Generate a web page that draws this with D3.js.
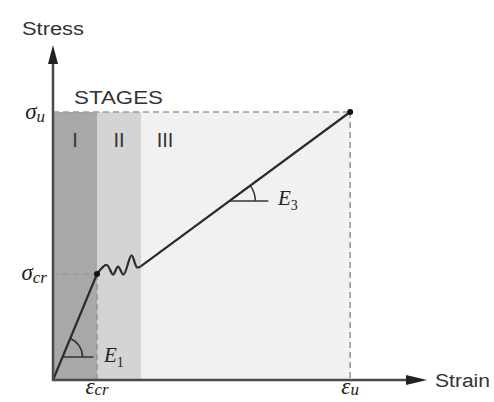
<!DOCTYPE html>
<html>
<head>
<meta charset="utf-8">
<script src="https://cdn.jsdelivr.net/npm/d3@7"></script>
<style>
  html, body { margin: 0; padding: 0; background: #fff; }
  svg { display: block; }
  .sans { font-family: "Liberation Sans", Arial, sans-serif; fill: #333; }
  .math { font-family: "Liberation Serif", "DejaVu Serif", serif; font-style: italic; fill: #222; }
</style>
</head>
<body>
<svg id="chart" width="494" height="402"></svg>
<script>
// Stress–strain response, normalised by cracking strain / cracking stress
const stageNames  = ["I", "II", "III"];
const stageBounds = [0, 1, 2, 6.75];          // strain at stage limits
const crackStrain = 1, crackStress = 1;       // (εcr, σcr)
const ultStrain = 6.75, ultStress = 2.528;    // (εu, σu)

// elastic branch, multiple-cracking wave, post-cracking branch
const elasticStrain = [0, 1];
const elasticStress = [0, 1];
const waveStrain = [1.0, 1.22, 1.364, 1.477, 1.602, 1.784, 1.909, 2.0];
const waveStress = [1.0, 1.085, 0.995, 1.070, 0.995, 1.175, 1.062, 1.075];
const hardStrain = [2.0, 6.75];
const hardStress = [1.075, 2.528];

const xAxisMax = 8.45, yAxisMax = 3.16;

const svg = d3.select("#chart");
const x = d3.scaleLinear().domain([0, xAxisMax]).range([53, 425]);
const y = d3.scaleLinear().domain([0, yAxisMax]).range([380, 45]);

// stage bands
const bandFill = ["#a8a8a8", "#d4d4d4", "#f1f1f1"];
svg.selectAll("rect.stage").data(stageNames).join("rect")
  .attr("class", "stage")
  .attr("x", (d, i) => x(stageBounds[i]))
  .attr("width", (d, i) => x(stageBounds[i + 1]) - x(stageBounds[i]))
  .attr("y", y(ultStress))
  .attr("height", y(0) - y(ultStress))
  .attr("fill", (d, i) => bandFill[i]);

svg.selectAll("text.stage").data(stageNames).join("text")
  .attr("class", "sans")
  .attr("x", (d, i) => d === "III" ? x(stageBounds[i]) + 24 : (x(stageBounds[i]) + x(stageBounds[i + 1])) / 2)
  .attr("y", 147)
  .attr("text-anchor", "middle")
  .attr("font-size", 20)
  .attr("fill", "#222")
  .text(d => d);

// reference dashed lines
const dash = svg.append("g").attr("stroke", "#9a9a9a").attr("stroke-width", 1.6)
  .attr("stroke-dasharray", "6,4").attr("fill", "none");
dash.append("line").attr("x1", x(0)).attr("x2", x(ultStrain)).attr("y1", y(ultStress)).attr("y2", y(ultStress));
dash.append("line").attr("x1", x(ultStrain)).attr("x2", x(ultStrain)).attr("y1", y(ultStress)).attr("y2", y(0));
dash.append("line").attr("x1", x(0)).attr("x2", x(crackStrain)).attr("y1", y(crackStress)).attr("y2", y(crackStress));
dash.append("line").attr("x1", x(crackStrain)).attr("x2", x(crackStrain)).attr("y1", y(crackStress)).attr("y2", y(0));

// response curve
const lineStyle = g => g.attr("fill", "none").attr("stroke", "#2b2b2b").attr("stroke-width", 2.2)
  .attr("stroke-linejoin", "round");
const straight = d3.line().x(d => x(d[0])).y(d => y(d[1]));
const wavy = d3.line().x(d => x(d[0])).y(d => y(d[1])).curve(d3.curveCatmullRom.alpha(0.5));
svg.append("path").datum(d3.zip(elasticStrain, elasticStress)).attr("d", straight).call(lineStyle);
svg.append("path").datum(d3.zip(waveStrain, waveStress)).attr("d", wavy).call(lineStyle);
svg.append("path").datum(d3.zip(hardStrain, hardStress)).attr("d", straight).call(lineStyle);

svg.append("circle").attr("cx", x(crackStrain)).attr("cy", y(crackStress)).attr("r", 3).attr("fill", "#111");
svg.append("circle").attr("cx", x(ultStrain)).attr("cy", y(ultStress)).attr("r", 3).attr("fill", "#111");

// slope markers: horizontal leg + arc at the intersection with the branch
function slopeMark(p0, p1, stressLevel, legPx, r) {
  const s = p0[0] + (stressLevel - p0[1]) * (p1[0] - p0[0]) / (p1[1] - p0[1]);
  const cx = x(s), cy = y(stressLevel);
  const dx = x(p1[0]) - x(p0[0]), dy = y(p0[1]) - y(p1[1]);
  const th = Math.atan2(dy, dx);
  const g = svg.append("g").attr("fill", "none").attr("stroke", "#333").attr("stroke-width", 1.5);
  g.append("line").attr("x1", cx).attr("x2", cx + legPx).attr("y1", cy).attr("y2", cy);
  g.append("path").attr("d",
    `M${cx + r},${cy} A${r},${r} 0 0 0 ${cx + r * Math.cos(th)},${cy - r * Math.sin(th)}`);
}
slopeMark([0, 0], [crackStrain, crackStress], y.invert(357), 31, 20);
slopeMark([hardStrain[0], hardStress[0]], [hardStrain[1], hardStress[1]], y.invert(201), 39, 26);

// modulus labels
function modLabel(px, py, sub) {
  const t = svg.append("text").attr("class", "math").attr("x", px).attr("y", py).attr("font-size", 21);
  t.append("tspan").text("E");
  t.append("tspan").attr("font-size", 14).attr("font-style", "normal").attr("dy", 5).text(sub);
}
modLabel(104, 362, "1");
modLabel(278, 205, "3");

// axes with arrowheads
const axis = svg.append("g").attr("stroke", "#4a4a4a").attr("stroke-width", 2.5);
axis.append("line").attr("x1", x(0)).attr("x2", x(0)).attr("y1", y(0) + 1).attr("y2", y(yAxisMax) + 12);
axis.append("line").attr("x1", x(0) - 1).attr("x2", x(xAxisMax) - 12).attr("y1", y(0)).attr("y2", y(0));
svg.append("path")
  .attr("d", `M${x(0)},${y(yAxisMax)} L${x(0) - 5},${y(yAxisMax) + 19} L${x(0) + 5},${y(yAxisMax) + 19} Z`)
  .attr("fill", "#222");
svg.append("path")
  .attr("d", `M${x(xAxisMax) + 2},${y(0)} L${x(xAxisMax) - 19},${y(0) - 5} L${x(xAxisMax) - 19},${y(0) + 5} Z`)
  .attr("fill", "#222");

// axis titles and headings
svg.append("text").attr("class", "sans").attr("x", 22).attr("y", 35).attr("font-size", 18)
  .attr("textLength", 62).attr("lengthAdjust", "spacingAndGlyphs").text("Stress");
svg.append("text").attr("class", "sans").attr("x", 74).attr("y", 104).attr("font-size", 19)
  .attr("textLength", 89).attr("lengthAdjust", "spacingAndGlyphs").text("STAGES");
svg.append("text").attr("class", "sans").attr("x", 435).attr("y", 387).attr("font-size", 18)
  .attr("textLength", 55).attr("lengthAdjust", "spacingAndGlyphs").text("Strain");

// value labels on the axes
function mathLabel(px, py, base, sub, anchor, subDy) {
  const t = svg.append("text").attr("class", "math").attr("x", px).attr("y", py)
    .attr("text-anchor", anchor).attr("font-size", 23);
  t.append("tspan").text(base);
  t.append("tspan").attr("font-size", 17).attr("dy", subDy).text(sub);
}
mathLabel(45, y(ultStress) + 7, "σ", "u", "end", 3);
mathLabel(47, y(crackStress) + 6, "σ", "cr", "end", 3);
mathLabel(x(crackStrain), 394, "ε", "cr", "middle", 1);
mathLabel(x(ultStrain), 394, "ε", "u", "middle", 1);
</script>
</body>
</html>
